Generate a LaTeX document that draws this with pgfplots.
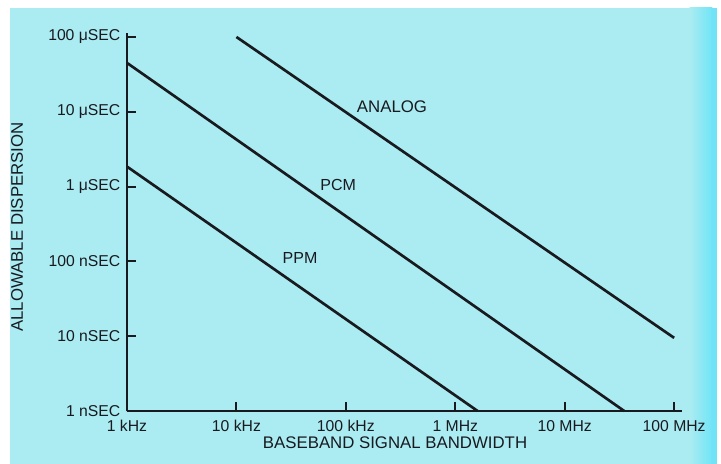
\documentclass[border=0pt]{standalone}
\usepackage{fontspec}
\setmainfont{Liberation Sans}
\usepackage{pgfplots}
\pgfplotsset{compat=1.18}
\definecolor{bgc}{RGB}{170,236,241}
\definecolor{bgb}{RGB}{112,228,246}
\definecolor{ink}{RGB}{24,26,32}
\begin{document}
\begin{tikzpicture}
\useasboundingbox (-95.25pt,-39.75pt) rectangle (445.5pt,308.25pt);
\fill[white] (-95.25pt,-39.75pt) rectangle (445.5pt,308.25pt);
\fill[bgc] (-87.75pt,-39.75pt) rectangle (442.5pt,302.25pt);
\shade[left color=bgc, right color=bgb] (422pt,-39.75pt) rectangle (439pt,302.25pt);
\fill[bgb] (439pt,-39.75pt) rectangle (442.5pt,302.25pt);
\begin{axis}[
  scale only axis,
  width=416.25pt, height=283.5pt,
  xmode=log, ymode=log,
  xmin=1e3, xmax=1.18e8,
  ymin=1e-9, ymax=1.13e-4,
  axis lines=left,
  axis line style={-, line width=1.9pt, ink},
  xminorticks=false, yminorticks=false,
  tick align=inside,
  major tick length=6.5pt,
  tick style={line width=1.5pt, ink},
  xtick={1e3,1e4,1e5,1e6,1e7,1e8},
  xticklabels={1 kHz,10 kHz,100 kHz,1 MHz,10 MHz,100 MHz},
  ytick={1e-9,1e-8,1e-7,1e-6,1e-5,1e-4},
  yticklabels={1 nSEC,10 nSEC,100 nSEC,1 μSEC,10 μSEC,100 μSEC},
  ticklabel style={font=\fontsize{11.8}{13}\selectfont, text=ink},
  xticklabel style={yshift=-3.5pt},
  yticklabel style={xshift=-1.5pt},
  xlabel={BASEBAND SIGNAL BANDWIDTH},
  ylabel={ALLOWABLE DISPERSION},
  label style={font=\fontsize{12.6}{14}\selectfont, text=ink},
  xlabel style={at={(axis description cs:0.483,-0.0847)}, anchor=center},
  ylabel style={at={(axis description cs:-0.198,0.487)}, anchor=center},
  clip=false,
]
\addplot[line width=2pt, ink] coordinates {(1e4,1e-4) (1e8,9.5e-9)};
\addplot[line width=2pt, ink] coordinates {(1e3,4.5e-5) (3.5e7,1e-9)};
\addplot[line width=2pt, ink] coordinates {(1e3,1.85e-6) (1.6e6,1e-9)};
\node[font=\fontsize{12.6}{14}\selectfont, text=ink] at (axis cs:2.64e5,1.16e-5) {ANALOG};
\node[font=\fontsize{12}{14}\selectfont, text=ink] at (axis cs:8.5e4,1.05e-6) {PCM};
\node[font=\fontsize{12}{14}\selectfont, text=ink] at (axis cs:3.81e4,1.11e-7) {PPM};
\end{axis}
\end{tikzpicture}
\end{document}
